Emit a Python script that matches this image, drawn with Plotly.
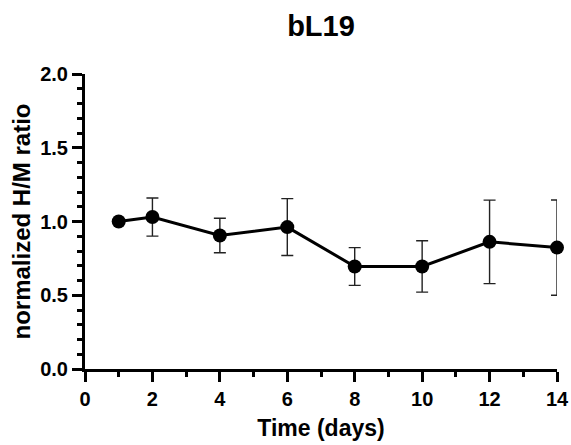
import plotly.graph_objects as go

days = [1, 2, 4, 6, 8, 10, 12, 14]
ratio = [1.00, 1.03, 0.905, 0.962, 0.695, 0.695, 0.862, 0.823]
sd = [0.0, 0.129, 0.117, 0.193, 0.128, 0.174, 0.283, 0.323]
x_ticks = [0, 2, 4, 6, 8, 10, 12, 14]
y_ticks = [0.0, 0.5, 1.0, 1.5, 2.0]

FONT = "Arial, Liberation Sans, Helvetica, sans-serif"

fig = go.Figure()
fig.add_trace(go.Scatter(
    x=days, y=ratio,
    mode="lines+markers",
    line=dict(color="black", width=3),
    marker=dict(color="black", size=14),
    error_y=dict(type="data", array=sd, visible=True, color="#222222",
                 thickness=1.4, width=6),
    cliponaxis=False,
    showlegend=False,
))

axis_common = dict(
    showline=True, linecolor="black", linewidth=3,
    ticks="outside", ticklen=10, tickwidth=3, tickcolor="black",
    showgrid=False, zeroline=False, automargin=False,
    tickfont=dict(family=FONT, size=20, color="black", weight="bold"),
)

fig.update_layout(
    width=571, height=445,
    margin=dict(l=85, r=14, t=74, b=76),
    plot_bgcolor="white", paper_bgcolor="white",
    title=dict(text="bL19", x=321 / 571, xanchor="center",
               y=1 - 26 / 445, yanchor="middle",
               font=dict(family=FONT, size=29, color="black", weight="bold")),
    xaxis=dict(
        range=[0, 14], tickvals=x_ticks, ticktext=[str(v) for v in x_ticks],
        minor=dict(dtick=1, ticks="outside", ticklen=5, tickwidth=2.5, tickcolor="black"),
        title=dict(text="Time (days)", standoff=11,
                   font=dict(family=FONT, size=23, color="black", weight="bold")),
        **axis_common,
    ),
    yaxis=dict(
        range=[0, 2], tickvals=y_ticks, ticktext=[f"{v:.1f}" for v in y_ticks],
        minor=dict(dtick=0.1, ticks="outside", ticklen=5, tickwidth=2.5, tickcolor="black"),
        title=dict(text="normalized H/M ratio", standoff=3,
                   font=dict(family=FONT, size=24, color="black", weight="bold")),
        **axis_common,
    ),
)

fig.write_html(
    "out.html",
    config={"displayModeBar": False},
    post_script="document.body.style.margin='0';document.body.style.overflow='hidden';",
)
